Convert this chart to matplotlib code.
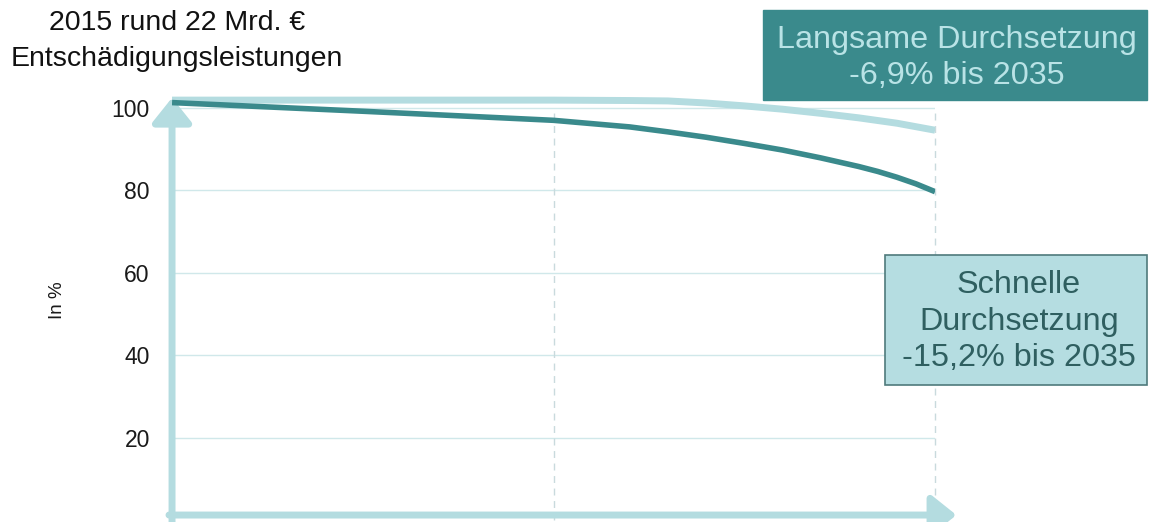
import matplotlib
matplotlib.use('Agg')
import matplotlib.pyplot as plt
from matplotlib.patches import Rectangle

plt.rcParams['font.family'] = ['Liberation Sans', 'DejaVu Sans']

# Werte (Index, 2015 ~ 100)
years_l = [2015, 2020, 2025, 2027, 2028, 2029, 2030, 2031, 2032, 2033, 2034, 2035]
langsam = [101.8, 101.8, 101.8, 101.7, 101.6, 101.1, 100.4, 99.6, 98.6, 97.5, 96.2, 94.5]
years_s = [2015, 2020, 2025, 2027, 2028, 2029, 2030, 2031, 2032, 2033, 2033.5, 2034, 2034.5, 2035]
schnell = [101.2, 99.1, 96.9, 95.3, 94.1, 92.8, 91.3, 89.7, 87.8, 85.7, 84.5, 83.1, 81.5, 79.6]
yticks = [20, 40, 60, 80, 100]
vlines = [2025, 2035]

dark = '#3a8a8c'
light = '#b4dce0'
grid_c = '#d0e8ea'

fig = plt.figure(figsize=(11.5, 5.22), dpi=100)
ax = fig.add_axes([0.1496, 0.0038, 0.6635, 0.8297])
ax.set_xlim(2015, 2035)
ax.set_ylim(0, 105)

for s in ax.spines.values():
    s.set_visible(False)

ax.set_yticks(yticks)
ax.set_yticklabels([str(v) for v in yticks], fontsize=16.5, color='#1a1a1a')
ax.set_xticks([])
ax.tick_params(axis='y', length=0, pad=16)
ax.hlines(yticks, 2015, 2035.1, color=grid_c, lw=1, zorder=1)
ax.vlines(vlines, 0, 100, color='#c9dadd', lw=1, linestyles=(0, (5, 4)), zorder=1,
          clip_on=False)

ax.plot(years_l, langsam, color=light, lw=5, solid_capstyle='butt', zorder=3)
ax.plot(years_s, schnell, color=dark, lw=4, solid_capstyle='butt', zorder=4)

# Achsenpfeile
arrow = dict(arrowstyle='-|>,head_length=0.75,head_width=0.6', lw=5, color=light,
             shrinkA=0, shrinkB=0, mutation_scale=20)
ax.annotate('', xy=(0, 0.975), xytext=(0, -0.01), xycoords='axes fraction',
            arrowprops=arrow, annotation_clip=False, zorder=2)
ax.annotate('', xy=(1.028, 0.0115), xytext=(-0.004, 0.0115), xycoords='axes fraction',
            arrowprops=arrow, annotation_clip=False, zorder=2)

fig.text(57 / 1150, 1 - 300 / 522, 'In %', rotation=90, ha='center', va='center',
         fontsize=13.5, color='#1a1a1a')

fig.text(177 / 1150, 1 - 23 / 522, '2015 rund 22 Mrd. €', ha='center', va='center',
         fontsize=20.5, color='#111111')
fig.text(177 / 1150, 1 - 59 / 522, 'Entschädigungsleistungen', ha='center', va='center',
         fontsize=20.5, color='#111111')

# Kästen
fig.add_artist(Rectangle((763 / 1150, 1 - 100 / 522), 384 / 1150, 90 / 522,
                         transform=fig.transFigure, facecolor=dark, edgecolor=dark))
fig.text(957 / 1150, 1 - 40 / 522, 'Langsame Durchsetzung', ha='center', va='center',
         fontsize=23.3, color='#b9e3e6')
fig.text(957 / 1150, 1 - 76 / 522, '-6,9% bis 2035', ha='center', va='center',
         fontsize=23.3, color='#b9e3e6')

fig.add_artist(Rectangle((885 / 1150, 1 - 385 / 522), 262 / 1150, 130 / 522,
                         transform=fig.transFigure, facecolor='#b5dde1',
                         edgecolor='#4f7a7c', lw=1.2))
for txt, yp in [('Schnelle', 285), ('Durchsetzung', 322), ('-15,2% bis 2035', 358)]:
    fig.text(1019 / 1150, 1 - yp / 522, txt, ha='center', va='center',
             fontsize=23.3, color='#2f5f60')

plt.savefig('out.png', dpi=100)
